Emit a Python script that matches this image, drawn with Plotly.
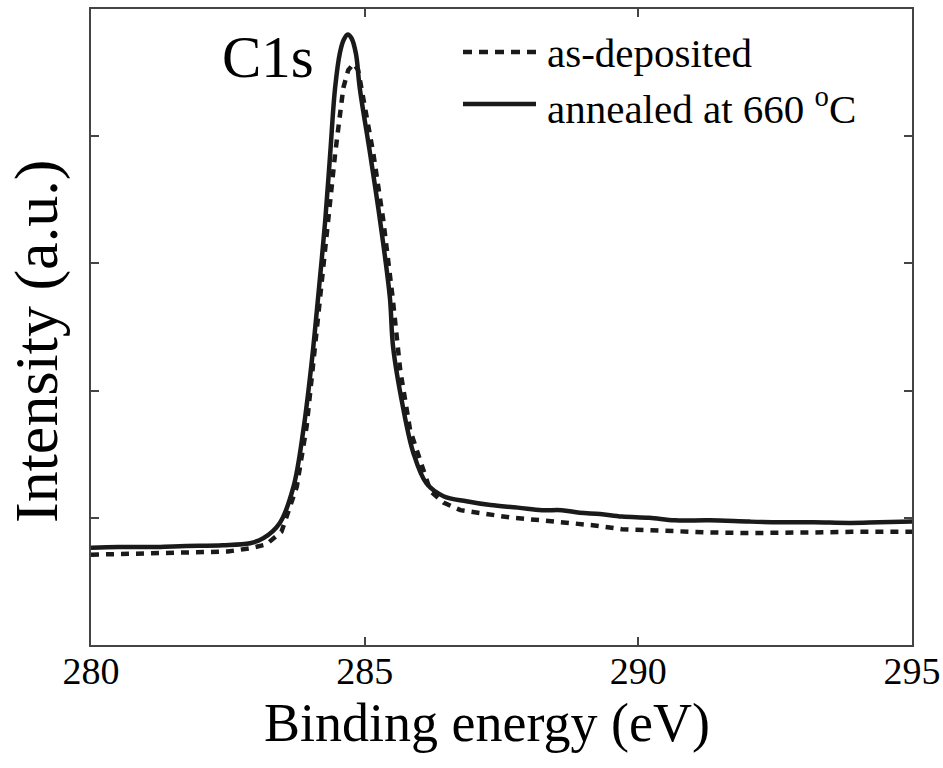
import plotly.graph_objects as go

# Binding energy (eV) and intensity (a.u.)
energy_annealed = [280.0, 280.5, 281.08, 281.5, 281.99, 282.4, 282.905, 283.15, 283.45, 283.70,
                   283.88, 284.03, 284.15, 284.28, 284.37, 284.46, 284.55, 284.62, 284.69, 284.76,
                   284.84, 284.91, 285.10, 285.28, 285.46, 285.52, 285.70, 285.89, 286.13, 286.44,
                   286.86, 287.3, 287.8, 288.24, 288.6, 288.93, 289.3, 289.70, 290.2, 290.67,
                   291.3, 292.04, 292.6, 293.2, 293.87, 294.4, 295.0]
intensity_annealed = [0.765, 0.77, 0.77, 0.775, 0.78, 0.785, 0.80, 0.84, 0.96, 1.245,
                      1.69, 2.215, 2.735, 3.34, 3.86, 4.38, 4.66, 4.76, 4.80, 4.77,
                      4.65, 4.38, 3.86, 3.34, 2.735, 2.34, 1.87, 1.51, 1.27, 1.17,
                      1.13, 1.10, 1.08, 1.06, 1.06, 1.04, 1.03, 1.01, 1.00, 0.98,
                      0.98, 0.97, 0.965, 0.965, 0.96, 0.965, 0.97]

energy_deposited = [280.0, 280.5, 281.0, 281.5, 282.0, 282.5, 282.9, 283.2, 283.48, 283.76,
                    283.94, 284.06, 284.21, 284.33, 284.46, 284.61, 284.70, 284.80, 284.88, 284.94,
                    285.16, 285.34, 285.51, 285.65, 285.83, 286.20, 286.44, 286.75, 287.2,
                    287.7, 288.24, 288.8, 289.2, 289.7, 290.2, 290.67, 291.3, 292.0, 292.6,
                    293.2, 293.9, 294.5, 295.0]
intensity_deposited = [0.71, 0.715, 0.72, 0.72, 0.725, 0.735, 0.76, 0.79, 0.89, 1.245,
                       1.72, 2.215, 2.79, 3.34, 3.86, 4.38, 4.52, 4.57, 4.52, 4.38,
                       3.86, 3.34, 2.735, 2.16, 1.69, 1.21, 1.12, 1.06, 1.03,
                       1.00, 0.98, 0.96, 0.94, 0.91, 0.90, 0.89, 0.885, 0.88, 0.88,
                       0.885, 0.89, 0.89, 0.89]

x_ticks = [280, 285, 290, 295]
x_tick_labels = ["280", "285", "290", "295"]
y_ticks = [1, 2, 3, 4]

series_names = ["as-deposited", "annealed at 660 <sup>o</sup>C"]
peak_label = "C1s"
x_title = "Binding energy (eV)"
y_title = "Intensity (a.u.)"

FONT = "Liberation Serif"
INK = "#1a1a1a"

fig = go.Figure()
fig.add_trace(go.Scatter(x=energy_deposited, y=intensity_deposited, mode="lines",
                         name=series_names[0],
                         line=dict(color=INK, width=4.5, dash="8px,7px")))
fig.add_trace(go.Scatter(x=energy_annealed, y=intensity_annealed, mode="lines",
                         name=series_names[1], line_shape="spline",
                         line=dict(color=INK, width=4.5)))

L, R, T, B = 91, 31, 9, 123
W, H = 943, 768
pw, ph = W - L - R, H - T - B


def px_x(p):
    return (p - L) / pw


def px_y(p):
    return (H - B - p) / ph


# custom legend
leg_items = [(52, "9px,7px", series_names[0], 53), (104, "solid", series_names[1], 106)]
for ypix, dash, txt, typix in leg_items:
    fig.add_shape(type="line", xref="paper", yref="paper",
                  x0=px_x(463), x1=px_x(536), y0=px_y(ypix), y1=px_y(ypix),
                  line=dict(color=INK, width=4.5, dash=dash))
    fig.add_annotation(xref="paper", yref="paper", x=px_x(545), y=px_y(typix),
                       xanchor="left", yanchor="middle", text=txt, showarrow=False,
                       font=dict(family=FONT, size=41, color="black"))

fig.add_annotation(x=283.23, y=4.62, text=peak_label, showarrow=False,
                   xanchor="center", yanchor="middle",
                   font=dict(family=FONT, size=59, color="black"))

# axis titles
fig.add_annotation(xref="paper", yref="paper", x=px_x(487), y=px_y(723),
                   xanchor="center", yanchor="middle", text=x_title, showarrow=False,
                   font=dict(family=FONT, size=54, color="black"))
fig.add_annotation(xref="paper", yref="paper", x=px_x(36), y=px_y(342),
                   xanchor="center", yanchor="middle", text=y_title, showarrow=False,
                   textangle=-90, font=dict(family=FONT, size=62, color="black"))

axis_common = dict(showline=True, linecolor="#444", linewidth=2, mirror="ticks",
                   ticks="inside", ticklen=8, tickwidth=1.5, tickcolor="#444",
                   showgrid=False, zeroline=False)

fig.update_xaxes(range=[280, 295], tickvals=x_ticks, ticktext=x_tick_labels,
                 tickfont=dict(family=FONT, size=38, color="black"),
                 ticklabelstandoff=-9,
                 **axis_common)
fig.update_yaxes(range=[0, 5], tickvals=y_ticks, showticklabels=False,
                 **axis_common)

fig.update_layout(width=W, height=H, showlegend=False,
                  margin=dict(l=L, r=R, t=T, b=B, autoexpand=False),
                  paper_bgcolor="white", plot_bgcolor="white")

fig.write_html("out.html", config={"displayModeBar": False},
               post_script="document.body.style.margin='0px';")
